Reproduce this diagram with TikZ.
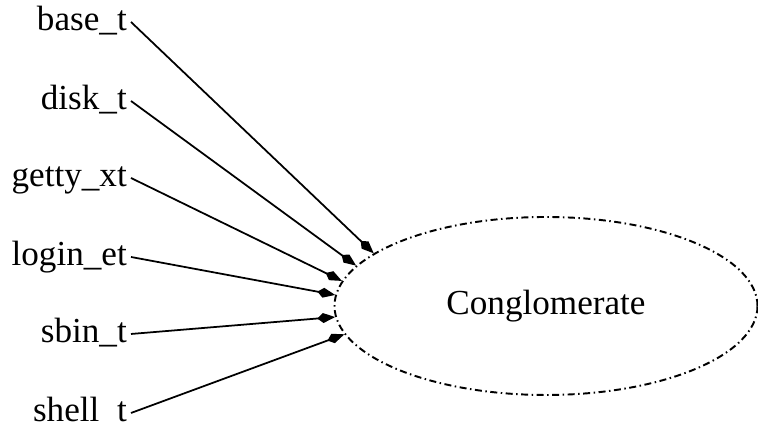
\documentclass[tikz,border=0pt]{standalone}
\usepackage{fontspec}
\setmainfont{Liberation Serif}
\usetikzlibrary{arrows.meta,shapes.geometric}

\begin{document}
\begin{tikzpicture}[font=\fontsize{10}{12}\selectfont,x=1cm,y=1cm,
src/.style={anchor=east,inner sep=1pt,text height=0.7em,text depth=0.2em},
link/.style={line width=0.5pt,-{Kite[length=1.8mm,width=1mm,inset=0.6mm]}},
group/.style={ellipse,draw,line width=0.55pt,dash pattern=on 0.7mm off 0.35mm on 0.15mm off 0.35mm,minimum width=4.23cm,minimum height=1.78cm,inner sep=0pt}]
\useasboundingbox (0,0) rectangle (7.58,4.28);
\node[group] (cong) at (5.46,1.22) {Conglomerate};
% sources feeding the conglomerate
\foreach \n/\lab/\y/\a in {base/base\_t/4.06/163,disk/disk\_t/3.27/168.7,getty/getty\_xt/2.50/173.8,login/login\_et/1.71/177.5,sbin/sbin\_t/0.94/183,shell/shell\enspace t/0.15/188.5}{
  \node[src] (\n) at (1.31,\y) {\lab};
  \draw[link] (\n.east) -- (cong.\a);}
\end{tikzpicture}
\end{document}
